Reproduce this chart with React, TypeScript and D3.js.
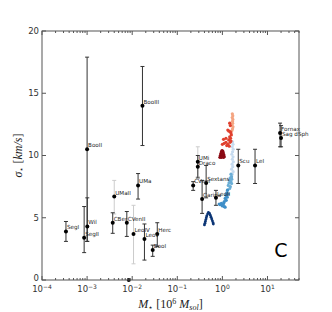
import React from "react";
import * as d3 from "d3";

const W = 332, H = 312;

// observed dwarf galaxies: stellar mass [1e6 Msun], sigma [km/s]
const galaxyNames = ["SegI", "SegII", "Wil", "BooII", "UMaII", "CBer", "CVenII", "LeoIV", "LeoV", "Herc", "BooI", "UMa", "BooIII", "CVenI", "UMi", "Draco", "Sextans", "Carina", "LeoII", "Scu", "LeI", "Fornax", "Sag dSph", ""];
const galaxyMass = [3.4e-4, 8.6e-4, 1.01e-3, 1.0e-3, 4.0e-3, 3.7e-3, 7.6e-3, 0.0107, 0.0187, 0.036, 0.0285, 0.0135, 0.0169, 0.225, 0.285, 0.285, 0.436, 0.355, 0.72, 2.25, 5.3, 19.0, 20.0, 8.4e-3];
const galaxySigma = [3.9, 3.4, 4.3, 10.5, 6.7, 4.6, 4.6, 3.7, 3.3, 3.7, 2.4, 7.6, 14.0, 7.6, 9.5, 9.1, 7.8, 6.5, 6.6, 9.2, 9.2, 11.8, 11.4, 0];
const sigmaLow = [3.1, 2.2, 3.1, 3.1, 5.3, 3.75, 3.5, 1.3, 1.6, 2.7, 1.9, 6.5, 10.8, 7.2, 8.3, 8.2, 6.6, 5.35, 6.0, 7.75, 7.75, 10.7, 10.7, 0];
const sigmaHigh = [4.7, 5.9, 6.6, 17.9, 8.0, 5.4, 5.5, 6.0, 4.5, 4.6, 2.8, 8.55, 17.15, 7.9, 10.7, 10.0, 9.2, 8.0, 7.2, 10.5, 10.5, 12.6, 12.4, 0];
const lightBars = ["UMaII", "LeoIV", "UMi"];

// simulated satellites, one list per colour group
const salmonPts = [[1.66, 13.35], [1.7, 13.2], [1.65, 13.05], [1.71, 12.9], [1.67, 12.75], [1.69, 12.6], [1.64, 12.45], [1.72, 12.3], [1.68, 12.15], [1.63, 12.0]];
const redPts = [[1.45, 12.6], [1.5, 12.4], [1.32, 12.05], [1.5, 11.9], [1.58, 11.65], [1.45, 11.5], [1.52, 11.38], [1.2, 11.38], [1.06, 11.3], [1.38, 11.25], [1.55, 11.16], [1.48, 11.06], [1.2, 11.06], [1.1, 10.98], [1.32, 10.9], [1.0, 10.9], [1.42, 10.75], [1.25, 10.8], [1.55, 11.8], [1.4, 11.95]];
const darkRedPts = [[0.88, 9.85], [0.9, 10.0], [0.92, 10.15], [0.95, 10.3], [0.98, 10.4], [1.02, 10.35], [1.05, 10.2], [1.08, 10.05], [1.1, 9.9], [0.93, 9.9], [0.97, 10.05], [1.0, 10.2], [1.03, 10.0], [1.06, 9.85], [0.95, 9.85], [0.99, 9.9]];
const lightBluePts = [[1.68, 11.1], [1.72, 10.9], [1.65, 10.7], [1.74, 10.5], [1.68, 10.3], [1.62, 10.1], [1.72, 9.9], [1.66, 9.7], [1.75, 9.5], [1.64, 9.3], [1.7, 9.1], [1.6, 8.9], [1.73, 8.7], [1.66, 8.5], [1.58, 8.35]];
const midBluePts = [[1.55, 8.5], [1.6, 8.3], [1.5, 8.2], [1.62, 8.1], [1.45, 8.0], [1.55, 7.9], [1.4, 7.8], [1.6, 7.75], [1.35, 7.6], [1.5, 7.5], [1.45, 7.35], [1.3, 7.25]];
const bluePts = [[1.3, 7.2], [1.25, 7.0], [1.35, 6.9], [1.2, 6.8], [1.28, 6.65], [1.15, 6.55], [1.22, 6.4], [1.1, 6.3], [0.95, 6.15], [1.05, 6.1], [0.9, 6.05], [1.0, 5.95], [1.1, 5.9], [0.85, 6.1], [1.08, 6.2], [1.15, 5.85]];
const navyPts = [[0.4, 4.42], [0.41, 4.55], [0.42, 4.7], [0.43, 4.85], [0.44, 5.0], [0.45, 5.15], [0.47, 5.3], [0.49, 5.42], [0.52, 5.35], [0.54, 5.2], [0.56, 5.05], [0.58, 4.9], [0.6, 4.75], [0.62, 4.6], [0.63, 4.5]];

const groups = [
  { pts: lightBluePts, color: "#c6dbef" },
  { pts: salmonPts, color: "#f4a582" },
  { pts: redPts, color: "#e0402e" },
  { pts: darkRedPts, color: "#8b0a14" },
  { pts: midBluePts, color: "#6baed6" },
  { pts: bluePts, color: "#3f8fc8" },
  { pts: navyPts, color: "#0b3575" },
];

const yTicks = [0, 5, 10, 15, 20];
const xMajor = [-4, -3, -2, -1, 0, 1];

export default function App() {
  const x = d3.scaleLog().domain([1e-4, 50]).range([42, 299]);
  const y = d3.scaleLinear().domain([0, 20]).range([280, 31]);
  const [x0, x1] = x.range();
  const [yb, yt] = y.range();
  const minor = x.ticks().filter(t => Math.abs(Math.log10(t) - Math.round(Math.log10(t))) > 1e-6);
  const frame = "#555";

  return (
    <svg width={W} height={H} style={{ position: "absolute", left: 0, top: 0, background: "#fff" }}>
      {/* error bars */}
      {galaxyNames.map((n, i) => {
        if (sigmaHigh[i] === sigmaLow[i]) return null;
        const c = lightBars.includes(n) ? "#cccccc" : "#333";
        const xx = x(galaxyMass[i]);
        return (
          <g key={"e" + i} stroke={c} strokeWidth={1}>
            <line x1={xx} x2={xx} y1={y(sigmaLow[i])} y2={y(sigmaHigh[i])} />
            <line x1={xx - 2} x2={xx + 2} y1={y(sigmaLow[i])} y2={y(sigmaLow[i])} />
            <line x1={xx - 2} x2={xx + 2} y1={y(sigmaHigh[i])} y2={y(sigmaHigh[i])} />
          </g>
        );
      })}
      {/* simulations */}
      {groups.map((g, gi) => (
        <g key={"g" + gi} fill={g.color}>
          {g.pts.map((p, j) => <circle key={j} cx={x(p[0])} cy={y(p[1])} r={gi === 6 ? 1.4 : 1.6} />)}
        </g>
      ))}
      {/* observed points */}
      {galaxyNames.map((n, i) => (
        <circle key={"p" + i} cx={x(galaxyMass[i])} cy={y(galaxySigma[i])} r={2} fill="#000" />
      ))}
      {/* labels (grayscale text) */}
      <g opacity={0.99}>
        {galaxyNames.map((n, i) => (
          <text key={"t" + i} x={x(galaxyMass[i]) + 1} y={y(galaxySigma[i]) - 2} fontSize={5.6} fill="#222"
            fontFamily="DejaVu Sans, sans-serif">{n}</text>
        ))}
      </g>
      {/* frame */}
      <rect x={x0} y={yt} width={x1 - x0} height={yb - yt} fill="none" stroke={frame} strokeWidth={1} />
      {yTicks.map(t => (
        <g key={"y" + t}>
          <line x1={x0} x2={x0 + 4} y1={y(t)} y2={y(t)} stroke={frame} />
          <line x1={x1} x2={x1 - 4} y1={y(t)} y2={y(t)} stroke={frame} />
          <text x={x0 - 3} y={y(t) - (t === 0 ? 2 : 0)} dy="0.35em" textAnchor="end" fontSize={8.5} fill="#333"
            fontFamily="DejaVu Sans, sans-serif">{t}</text>
        </g>
      ))}
      {xMajor.map(e => {
        const xx = x(Math.pow(10, e));
        return (
          <g key={"x" + e}>
            <line x1={xx} x2={xx} y1={yb} y2={yb - 4} stroke={frame} />
            <line x1={xx} x2={xx} y1={yt} y2={yt + 4} stroke={frame} />
            <text x={xx} y={yb + 12} textAnchor="middle" fontSize={8.5} fill="#333" fontFamily="DejaVu Sans, sans-serif">
              10<tspan dy={-3.5} fontSize={6}>{e < 0 ? "\u2212" + Math.abs(e) : e}</tspan>
            </text>
          </g>
        );
      })}
      {minor.map((t, i) => (
        <g key={"m" + i} stroke={frame}>
          <line x1={x(t)} x2={x(t)} y1={yb} y2={yb - 2} />
          <line x1={x(t)} x2={x(t)} y1={yt} y2={yt + 2} />
        </g>
      ))}
      {/* axis titles */}
      <text x={(x0 + x1) / 2} y={308} textAnchor="middle" fontSize={12} fill="#222" fontFamily="Liberation Serif, serif">
        <tspan fontStyle="italic">M</tspan><tspan fontSize={8} dy={2}>⋆</tspan>
        <tspan dy={-2}> [10</tspan><tspan fontSize={8} dy={-4}>6</tspan>
        <tspan dy={4}> </tspan><tspan fontStyle="italic">M</tspan><tspan fontSize={8} dy={2} fontStyle="italic">sol</tspan><tspan dy={-2}>]</tspan>
      </text>
      <text transform={`translate(22,${(yb + yt) / 2}) rotate(-90)`} textAnchor="middle" fontSize={12} fill="#222"
        fontFamily="Liberation Serif, serif">
        <tspan fontStyle="italic">σ</tspan><tspan fontSize={8} dy={2}>⋆</tspan>
        <tspan dy={-2}> [</tspan><tspan fontStyle="italic">km/s</tspan>]
      </text>
      <text x={281} y={257} textAnchor="middle" fontSize={19} fill="#000" fontFamily="DejaVu Sans, sans-serif">C</text>
    </svg>
  );
}
